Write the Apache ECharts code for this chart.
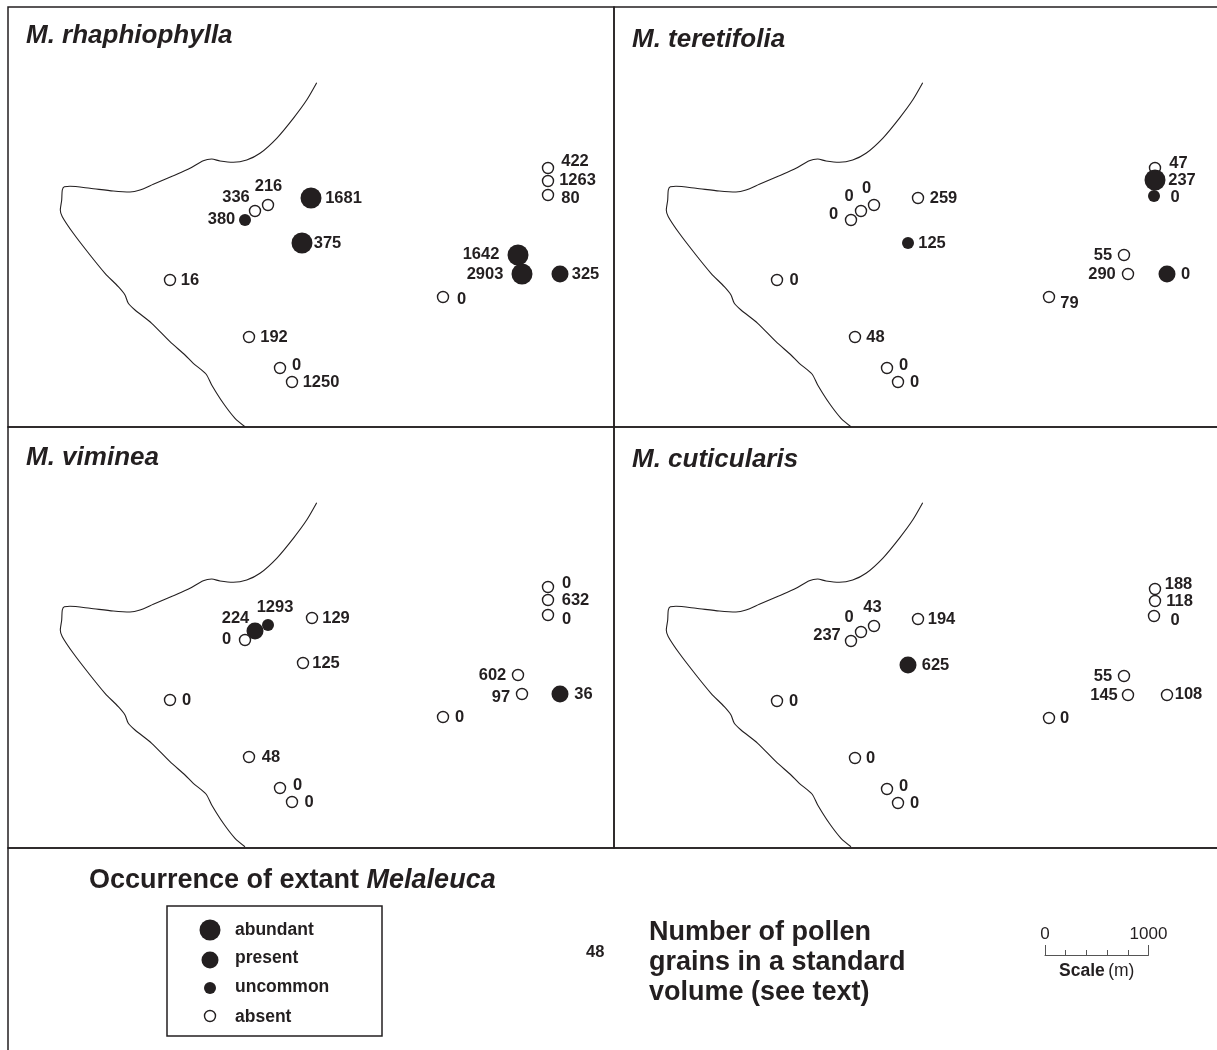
<!DOCTYPE html>
<html><head><meta charset="utf-8">
<style>html,body{margin:0;padding:0;background:#fff;overflow:hidden}#c{width:1217px;height:1050px}</style>
<script src="https://cdn.jsdelivr.net/npm/echarts@6/dist/echarts.min.js"></script></head>
<body><div id="c"></div>
<script>
// ---- data: map position of each site within its panel, pollen count, occurrence class ----
const coastX = [308.7,298.7,285.3,268.7,252,238.7,225.3,212,203.7,195.3,182,165.3,145.3,132,122,105.3,82,62,56.3,54.3,53.7,52.3,54.3,65.3,82,97,110.3,117,120.3,127,143.7,162,177,185.3,198,203.7,215.3,227,237];
const coastY = [75.7,93,111.3,131.3,146.3,153,155.3,154,152,153.7,161.3,168.7,177.3,183,185,184,181.3,179.3,179.7,183,193,203,209.7,226.3,248,266.3,279.7,288,296.3,303,316.3,334.7,348,356.3,367,378,396.3,411.3,419.7];

const rhaX = [540,540,540,510,514,552,435,303,260,247,237,294,162,241,272,284];
const rhaY = [161,174,188,248,267,267,290,191,198,204,213,236,273,330,361,375];
const rhaCount = [422,1263,80,1642,2903,325,0,1681,216,336,380,375,16,192,0,1250];
const rhaClass = ['absent','absent','absent','abundant','abundant','present','absent','abundant','absent','absent','uncommon','abundant','absent','absent','absent','absent'];

const terX = [541,541,540,304,260,247,237,294,510,514,553,435,163,241,273,284];
const terY = [161,173,189,191,198,204,213,236,248,267,267,290,273,330,361,375];
const terCount = [47,237,0,259,0,0,0,125,55,290,0,79,0,48,0,0];
const terClass = ['absent','abundant','uncommon','absent','absent','absent','absent','uncommon','absent','absent','present','absent','absent','absent','absent','absent'];

const vimX = [540,540,540,260,247,237,304,295,510,514,552,435,162,241,272,284];
const vimY = [160,173,188,198,204,213,191,236,248,267,267,290,273,330,361,375];
const vimCount = [0,632,0,1293,224,0,129,125,602,97,36,0,0,48,0,0];
const vimClass = ['absent','absent','absent','uncommon','present','absent','absent','absent','absent','absent','present','absent','absent','absent','absent','absent'];

const cutX = [541,541,540,260,247,237,304,294,510,514,553,435,163,241,273,284];
const cutY = [162,174,189,199,205,214,192,238,249,268,268,291,274,331,362,376];
const cutCount = [188,118,0,43,0,237,194,625,55,145,108,0,0,0,0,0];
const cutClass = ['absent','absent','absent','absent','absent','absent','absent','present','absent','absent','absent','absent','absent','absent','absent','absent'];

const legendNames = ['abundant','present','uncommon','absent'];
const legendRows = [24,54,82,110];
const panelNames = ['M. rhaphiophylla','M. teretifolia','M. viminea','M. cuticularis'];
const scaleTicks = [0,1000];

// ---- presentation ----
const INK = '#231f20', FONT = '"Liberation Sans", Arial, sans-serif';
const classSize = {abundant:21, present:17, uncommon:12, absent:11};
const rhaShift = [[27,-7],[29.5,-1],[22.5,3],[-37,-1],[-37,0],[25.5,0],[18.5,2],[32.5,0],[0.5,-19],[-19,-14],[-23.5,-1],[25.5,0],[20,0],[25,0],[16.5,-3],[29,0]];
const terShift = [[23.5,-5],[27,0],[21,1],[25.5,0],[-7.5,-17],[-12,-15],[-17.5,-6],[24,0],[-21,0],[-26,0],[18.5,0],[20.5,6],[17,0],[20.5,0],[16.5,-3],[16.5,0]];
const vimShift = [[18.5,-4],[27.5,0],[18.5,4],[7,-18],[-19.5,-13],[-18.5,-1],[24,0],[23,0],[-25.5,0],[-21,3],[23.5,0],[16.5,0],[16.5,0],[22,0],[17.5,-3],[17,0]];
const cutShift = [[23.5,-5],[24.5,0],[21,4],[-1.5,-19],[-12,-15],[-24,-6],[23.5,0],[27.5,0],[-21,0],[-24,0],[21.5,-1],[15.5,0],[16.5,0],[15.5,0],[16.5,-3],[16.5,0]];

const frame = {show:true, borderColor:INK, borderWidth:1.5, backgroundColor:'transparent', containLabel:false, outerBoundsMode:'none'};
const grids = [
  {...frame, left:8,   top:7,   width:606, height:420},
  {...frame, left:614, top:7,   width:606, height:420},
  {...frame, left:8,   top:427, width:606, height:421},
  {...frame, left:614, top:427, width:606, height:421},
  {...frame, left:8,   top:848, width:1230, height:230},
  {...frame, left:167, top:906, width:215, height:130},
  {show:false, outerBoundsMode:'none', left:1045, top:945, width:103.5, height:10}
];
const hidden = {type:'value', show:false, splitLine:{show:false}};
const xAxes = [
  {...hidden, gridIndex:0, min:0, max:606},
  {...hidden, gridIndex:1, min:0, max:606},
  {...hidden, gridIndex:2, min:0, max:606},
  {...hidden, gridIndex:3, min:0, max:606},
  {...hidden, gridIndex:4, min:0, max:1},
  {...hidden, gridIndex:5, min:0, max:215},
  {type:'value', gridIndex:6, min:scaleTicks[0], max:scaleTicks[1], interval:1000, position:'bottom',
   axisLine:{show:true, onZero:false, lineStyle:{color:'#555', width:1}},
   axisTick:{show:true, inside:true, length:10, lineStyle:{color:'#555', width:1}},
   minorTick:{show:true, splitNumber:5, length:5, lineStyle:{color:'#555', width:1}},
   splitLine:{show:false}, minorSplitLine:{show:false},
   axisLabel:{inside:true, margin:12, color:INK, fontFamily:FONT, fontSize:17, showMinLabel:true, showMaxLabel:true, formatter:v=>String(v)},
   name:'{b|Scale} {r|(m)}', nameLocation:'middle', nameGap:7,
   nameTextStyle:{rich:{b:{fontFamily:FONT,fontSize:17.5,fontWeight:'bold',color:INK}, r:{fontFamily:FONT,fontSize:17.5,color:INK}}}}
];
const yAxes = [
  {...hidden, gridIndex:0, min:0, max:420, inverse:true},
  {...hidden, gridIndex:1, min:0, max:420, inverse:true},
  {...hidden, gridIndex:2, min:0, max:421, inverse:true},
  {...hidden, gridIndex:3, min:0, max:421, inverse:true},
  {...hidden, gridIndex:4, min:0, max:1},
  {...hidden, gridIndex:5, min:0, max:130, inverse:true},
  {...hidden, gridIndex:6, min:0, max:1}
];

function markStyle(cls){
  return cls === 'absent' ? {color:'#fff', borderColor:INK, borderWidth:1.4, opacity:1}
                          : {color:INK, borderColor:INK, borderWidth:0, opacity:1};
}
function panelSeries(i, xs, ys, counts, classes, shifts){
  return [
    {type:'line', xAxisIndex:i, yAxisIndex:i, data:coastX.map((x,k)=>[x, coastY[k]]),
     showSymbol:false, symbol:'none', smooth:0.25, lineStyle:{color:INK, width:1.1}, silent:true, z:2},
    {type:'scatter', xAxisIndex:i, yAxisIndex:i, silent:true, z:3,
     data:xs.map((x,k)=>({
       value:[x, ys[k]],
       symbolSize:classSize[classes[k]],
       itemStyle:markStyle(classes[k]),
       label:{show:true, position:'inside', offset:shifts[k], formatter:String(counts[k]),
              color:INK, fontFamily:FONT, fontWeight:'bold', fontSize:16.5}
     }))}
  ];
}
const series = [
  ...panelSeries(0, rhaX, rhaY, rhaCount, rhaClass, rhaShift),
  ...panelSeries(1, terX, terY, terCount, terClass, terShift),
  ...panelSeries(2, vimX, vimY, vimCount, vimClass, vimShift),
  ...panelSeries(3, cutX, cutY, cutCount, cutClass, cutShift),
  {type:'scatter', xAxisIndex:5, yAxisIndex:5, silent:true, z:3,
   data:legendNames.map((n,k)=>({
     value:[43, legendRows[k]],
     symbolSize:classSize[n],
     itemStyle:markStyle(n),
     label:{show:true, position:'inside', align:'left', offset:[25, [0,-2,-1,1][k]], formatter:n,
            color:INK, fontFamily:FONT, fontWeight:'bold', fontSize:17.5}
   }))}
];

const titleBase = {fontFamily:FONT, fontWeight:'bold', color:INK};
const titles = [
  {left:26,  top:23, text:panelNames[0], textStyle:{...titleBase, fontStyle:'italic', fontSize:26}},
  {left:632, top:27, text:panelNames[1], textStyle:{...titleBase, fontStyle:'italic', fontSize:26}},
  {left:26,  top:445, text:panelNames[2], textStyle:{...titleBase, fontStyle:'italic', fontSize:26}},
  {left:632, top:447, text:panelNames[3], textStyle:{...titleBase, fontStyle:'italic', fontSize:26}},
  {left:89,  top:867, text:'{b|Occurrence of extant }{i|Melaleuca}',
   textStyle:{rich:{b:{...titleBase,fontSize:27}, i:{...titleBase,fontStyle:'italic',fontSize:27}}}},
  {left:586, top:944, text:'48', textStyle:{...titleBase, fontSize:16.5}},
  {left:649, top:918, text:'Number of pollen\ngrains in a standard\nvolume (see text)',
   textStyle:{...titleBase, fontSize:27, lineHeight:30}}
].map(t=>({...t, padding:0}));

const chart = echarts.init(document.getElementById('c'), null, {renderer:'canvas', width:1217, height:1050});
chart.setOption({animation:false, backgroundColor:'#fff', tooltip:{show:false}, legend:{show:false},
  title:titles, grid:grids, xAxis:xAxes, yAxis:yAxes, series});
</script></body></html>
